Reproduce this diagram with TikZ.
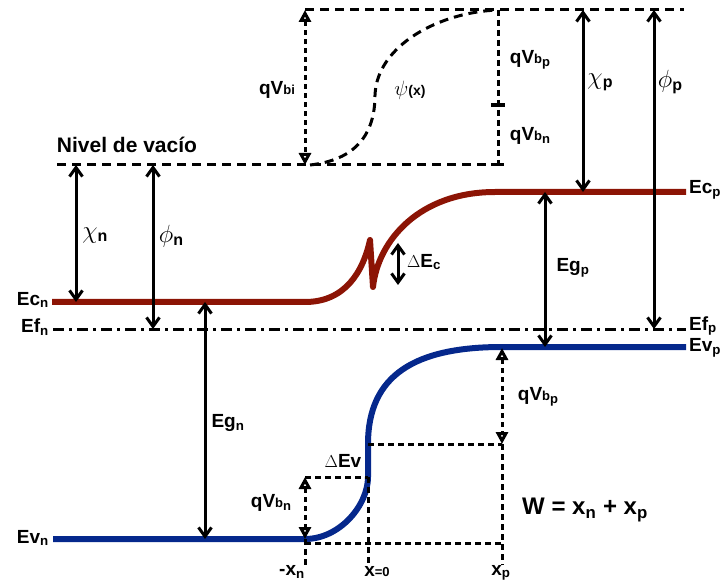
\documentclass[tikz,border=0pt]{standalone}
\usepackage{fontspec}
\setmainfont{Liberation Sans}
\usetikzlibrary{arrows.meta}
\definecolor{bandred}{RGB}{140,20,5}
\definecolor{bandblue}{RGB}{5,40,140}
\newcommand{\gsym}[2]{{\fontsize{27}{27}\selectfont$#1$}\raisebox{-3pt}{\fontsize{16}{16}\selectfont #2}}
\newcommand{\qvb}[1]{qV{\fontsize{13}{13}\selectfont b\raisebox{-3pt}{#1}}}

\begin{document}
\begin{tikzpicture}[x=1pt, y=-1pt,
  band/.style={line width=6pt, line join=round},
  dimarrow/.style={line width=3pt, {Straight Barb[length=9pt,width=13pt]}-{Straight Barb[length=9pt,width=13pt]}},
  potarrow/.style={line width=3pt, dash pattern=on 5pt off 4pt, {Triangle[open,length=12pt,width=12pt]}-{Triangle[open,length=12pt,width=12pt]}},
  guide/.style={line width=3pt, dash pattern=on 6pt off 4pt},
  vacuum/.style={line width=3pt, dash pattern=on 9pt off 6pt},
  fermi/.style={line width=3pt, dash pattern=on 11pt off 5pt on 3pt off 5pt},
  lbl/.style={font=\fontsize{19}{22}\selectfont\bfseries, inner sep=0pt}]
\useasboundingbox (0,0) rectangle (720,585);

\def\vacp{10}
\def\vacn{165}
\def\ecn{302}
\def\ecp{192}
\def\efl{329}
\def\evn{539}
\def\evp{347}
\def\xn{305}
\def\xz{368}
\def\xp{502}

\coordinate (EcSpike) at (370,240);
\coordinate (EcCusp) at (373,287);
\coordinate (EvA) at (\xz,477);
\coordinate (EvB) at (\xz,444);

% vacuum levels and potential
\draw[vacuum] (57,\vacn) -- (498,\vacn);
\draw[vacuum] (\xn,\vacp) -- (684,\vacp);
\draw[vacuum] (310,\vacn) .. controls (355,160) and (375,135) .. (375,95)
  .. controls (377,45) and (440,12) .. (498,\vacp);
\draw[guide] (498,\vacp) -- (498,\vacn);
\draw[line width=4pt] (491,105) -- (505,105);
\draw[line width=3pt] (491,\vacn) -- (504,\vacn);

% bands
\draw[fermi] (53,\efl) -- (686,\efl);
\draw[band, bandred] (52,\ecn) -- (\xn,\ecn) .. controls (345,\ecn) and (363,272) .. (EcSpike)
  -- (EcCusp) .. controls (378,240) and (420,\ecp) .. (495,\ecp) -- (686,\ecp);
\draw[band, bandblue] (53,\evn) -- (\xn,\evn) .. controls (340,\evn) and (\xz,505) .. (EvA)
  -- (EvB) .. controls (\xz,375) and (415,\evp) .. (\xp,\evp) -- (686,\evp);

% energies
\draw[dimarrow] (76,\vacn) -- (76,\ecn);
\draw[dimarrow] (153,\vacn) -- (153,\efl);
\draw[dimarrow] (205,\ecn) -- (205,\evn);
\draw[dimarrow] (398,243) -- (398,285);
\draw[dimarrow] (545,\ecp) -- (545,\evp);
\draw[dimarrow] (583,\vacp) -- (583,\ecp);
\draw[dimarrow] (654,\vacp) -- (654,\efl);

% built-in potential
\draw[potarrow] (\xn,\vacp) -- (\xn,\vacn);
\draw[potarrow] (\xn,477) -- (\xn,\evn);
\draw[potarrow] (\xp,348) -- (\xp,444);
\draw[guide] (\xn,477) -- (EvA);
\draw[guide] (EvB) -- (\xp,444);
\draw[guide] (\xn,543) -- (\xp,543);
\draw[guide] (\xn,\evn) -- (\xn,565);
\draw[guide] (EvA) -- (\xz,565);
\draw[guide] (\xp,444) -- (\xp,565);

% labels
\node[lbl, font=\fontsize{21}{24}\selectfont\bfseries] (vaclbl) at (127,145) {Nivel de vacío};
\node[lbl] (qvbi) at (277,90) {qV{\fontsize{13}{13}\selectfont bi}};
\node[lbl] (psilbl) at (410,90) {{\fontsize{22}{22}\selectfont$\psi$}{\fontsize{14}{14}\selectfont(x)}};
\node[lbl] (qvbpt) at (530,60) {\qvb{p}};
\node[lbl] (qvbnt) at (530,136) {\qvb{n}};
\node[lbl] (chip) at (600,82) {\gsym{\chi}{p}};
\node[lbl] (phip) at (670,82) {\gsym{\phi}{p}};
\node[lbl] (chin) at (95,236) {\gsym{\chi}{n}};
\node[lbl] (phin) at (171,236) {\gsym{\phi}{n}};
\node[lbl, anchor=east] (ecnlbl) at (49,300) {Ec\textsubscript{n}};
\node[lbl, anchor=east] (efnlbl) at (49,327) {Ef\textsubscript{n}};
\node[lbl, anchor=east] (evnlbl) at (49,538) {Ev\textsubscript{n}};
\node[lbl, anchor=west] (ecplbl) at (689,190) {Ec\textsubscript{p}};
\node[lbl, anchor=west] (efplbl) at (689,326) {Ef\textsubscript{p}};
\node[lbl, anchor=west] (evplbl) at (689,348) {Ev\textsubscript{p}};
\node[lbl] (decl) at (424,262) {$\Delta$E\textsubscript{c}};
\node[lbl] (egp) at (573,268) {Eg\textsubscript{p}};
\node[lbl] (egn) at (228,423) {Eg\textsubscript{n}};
\node[lbl] (devl) at (343,461) {$\Delta$Ev};
\node[lbl] (qvbnb) at (271,503) {\qvb{n}};
\node[lbl] (qvbpb) at (538,397) {\qvb{p}};
\node[lbl] (xnlbl) at (292,572) {-x\textsubscript{n}};
\node[lbl] (x0lbl) at (377,572) {x{\fontsize{13}{13}\selectfont=0}};
\node[lbl] (xplbl) at (501,573) {x\textsubscript{p}};
\node[lbl, font=\fontsize{24}{28}\selectfont\bfseries] (wlbl) at (585,510) {W = x\textsubscript{n} + x\textsubscript{p}};
\end{tikzpicture}
\end{document}
